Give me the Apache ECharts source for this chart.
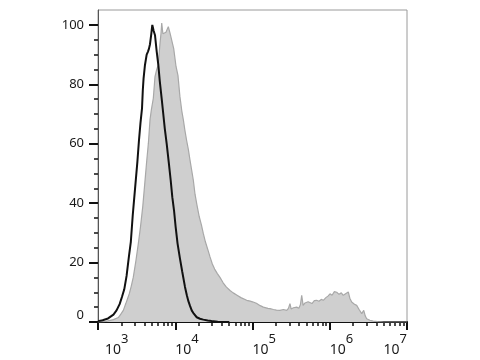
<!DOCTYPE html>
<html>
<head>
<meta charset="utf-8">
<script src="https://cdn.jsdelivr.net/npm/echarts@6/dist/echarts.min.js"></script>
<style>html,body{margin:0;padding:0;background:#fff;}#c{width:480px;height:360px;}</style>
</head>
<body>
<div id="c"></div>
<script>
// x values are log10 of fluorescence intensity
const grayLog = [3.0,3.1,3.2,3.263,3.30,3.328,3.36,3.405,3.43,3.457,3.49,3.522,3.55,3.58,3.61,3.63,3.652,3.673,3.69,3.716,3.738,3.76,3.78,3.80,3.815,3.825,3.84,3.86,3.88,3.91,3.93,3.955,3.98,4.01,4.035,4.06,4.085,4.105,4.125,4.148,4.17,4.191,4.213,4.234,4.256,4.28,4.31,4.34,4.363,4.39,4.42,4.45,4.48,4.51,4.545,4.579,4.62,4.66,4.709,4.75,4.80,4.85,4.925,4.97,5.0,5.05,5.1,5.14,5.2,5.227,5.27,5.31,5.356,5.40,5.443,5.465,5.485,5.50,5.53,5.572,5.60,5.62,5.637,5.655,5.68,5.70,5.72,5.744,5.77,5.80,5.83,5.86,5.89,5.917,5.95,5.98,6.003,6.03,6.06,6.09,6.12,6.15,6.175,6.20,6.24,6.26,6.284,6.32,6.349,6.38,6.414,6.44,6.46,6.478,6.52,6.563,6.62,6.7,7.0];
const grayCount = [0,0.2,0.8,1.5,2.8,3.9,6.2,9.5,12,15.1,20.5,26.4,32,39,48,54,60.1,68,71.3,75.3,82.6,85,86.5,93,97,100.6,97,96.6,97.5,99.4,97.5,97,92,86,83,76,71,68,64.5,61,58,54.5,51,47.7,43,39.5,35.5,32.5,29.8,27,24.5,21.9,19.5,17.8,16.3,15,13.2,11.8,10.6,9.8,9,8.2,7.3,7,6.8,6.3,5.5,5,4.6,4.5,4.2,4.0,3.9,4.2,3.9,4.6,6.2,4.4,4.8,5.0,4.6,5.8,9.0,5.6,6.4,5.8,6.8,6.7,6.2,7.2,7.3,7.0,7.6,7.3,8.2,8.8,9.5,9.0,10.2,10.0,9.3,9.8,9.0,9.6,10.1,8.0,6.7,6.0,5.6,4.2,2.8,3.9,2.0,1.1,0.6,0.3,0.1,0,0];
const blackLog = [3.0,3.06,3.13,3.2,3.24,3.28,3.31,3.34,3.37,3.40,3.425,3.45,3.47,3.49,3.51,3.53,3.55,3.57,3.58,3.59,3.608,3.63,3.647,3.66,3.673,3.69,3.703,3.72,3.738,3.76,3.781,3.80,3.825,3.845,3.865,3.889,3.915,3.941,3.962,3.984,4.005,4.03,4.06,4.09,4.126,4.15,4.17,4.19,4.213,4.24,4.278,4.32,4.363,4.42,4.47,4.55,4.7];
const blackCount = [0.3,0.6,1.2,2.5,3.9,6,8.4,11,15.5,22,27,36,42,48,54,61,67,72,78,82,86.5,90,91,92,93.5,97,100,98,96.5,91,86.5,81,75,70,65,60,54,47.7,42,37.6,32,26.4,21.5,17,11.8,9,7,5.5,3.9,2.8,1.6,1.1,0.8,0.5,0.3,0.1,0];
const xMajorTicks = [3,4,5,6,7];
const xMinorTicks = [];
[3,4,5,6].forEach(d => { for (let k = 2; k <= 9; k++) xMinorTicks.push(d + Math.log10(k)); });
const yMajorTicks = [0,20,40,60,80,100];
const yMinorTicks = [5,10,15,25,30,35,45,50,55,65,70,75,85,90,95];

const grayData = grayLog.map((x, i) => [x, grayCount[i]]);
const blackData = blackLog.map((x, i) => [x, blackCount[i]]);

const chart = echarts.init(document.getElementById('c'));
const txt = '#1a1a1a';
chart.setOption({
  animation: false,
  backgroundColor: '#fff',
  grid: { left: 98, right: 73, top: 10, bottom: 38, show: true, borderColor: '#9a9a9a', borderWidth: 1, backgroundColor: 'transparent' },
  xAxis: [
    {
      type: 'value', min: 3, max: 7, position: 'bottom',
      splitLine: { show: false },
      axisLine: { show: true, lineStyle: { color: '#111', width: 2 } },
      axisTick: { show: true, customValues: xMajorTicks, length: 8, lineStyle: { color: '#111', width: 2 } },
      axisLabel: {
        show: true, customValues: xMajorTicks, margin: 11, align: 'left', alignMaxLabel: 'right',
        formatter: function (v) {
          const e = Math.round(v);
          return (e === 3 ? '{bf|10}' : '{b|10}') + '{s|' + e + '}';
        },
        rich: {
          b: { fontFamily: 'Noto Sans', fontSize: 14, color: txt, padding: [10, 0, 0, 0], verticalAlign: 'bottom' },
          bf: { fontFamily: 'Noto Sans', fontSize: 14, color: txt, padding: [10, 0, 0, 7], verticalAlign: 'bottom' },
          s: { fontFamily: 'Noto Sans', fontSize: 13, color: txt, verticalAlign: 'top' }
        }
      }
    },
    {
      type: 'value', min: 3, max: 7, position: 'bottom',
      splitLine: { show: false },
      axisLine: { show: false },
      axisTick: { show: true, customValues: xMinorTicks, length: 4, lineStyle: { color: '#111', width: 1.5 } },
      axisLabel: { show: false }
    }
  ],
  yAxis: [
    {
      type: 'value', min: 0, max: 105, position: 'left',
      splitLine: { show: false },
      axisLine: { show: true, lineStyle: { color: '#555', width: 1 } },
      axisTick: { show: true, customValues: yMajorTicks, length: 9, lineStyle: { color: '#111', width: 2 } },
      axisLabel: { show: true, customValues: yMajorTicks, margin: 14, fontFamily: 'Noto Sans', fontSize: 13, color: txt, verticalAlignMinLabel: 'bottom' }
    },
    {
      type: 'value', min: 0, max: 105, position: 'left',
      splitLine: { show: false },
      axisLine: { show: false },
      axisTick: { show: true, customValues: yMinorTicks, length: 4, lineStyle: { color: '#111', width: 1.5 } },
      axisLabel: { show: false }
    }
  ],
  series: [
    {
      type: 'line', data: grayData, xAxisIndex: 0, yAxisIndex: 0,
      showSymbol: false, symbol: 'none',
      lineStyle: { color: '#a8a8a8', width: 1.2 },
      areaStyle: { color: '#cfcfcf', opacity: 1 },
      z: 2
    },
    {
      type: 'line', data: blackData, xAxisIndex: 0, yAxisIndex: 0,
      showSymbol: false, symbol: 'none',
      lineStyle: { color: '#111', width: 2 },
      z: 3
    }
  ]
});
</script>
</body>
</html>
